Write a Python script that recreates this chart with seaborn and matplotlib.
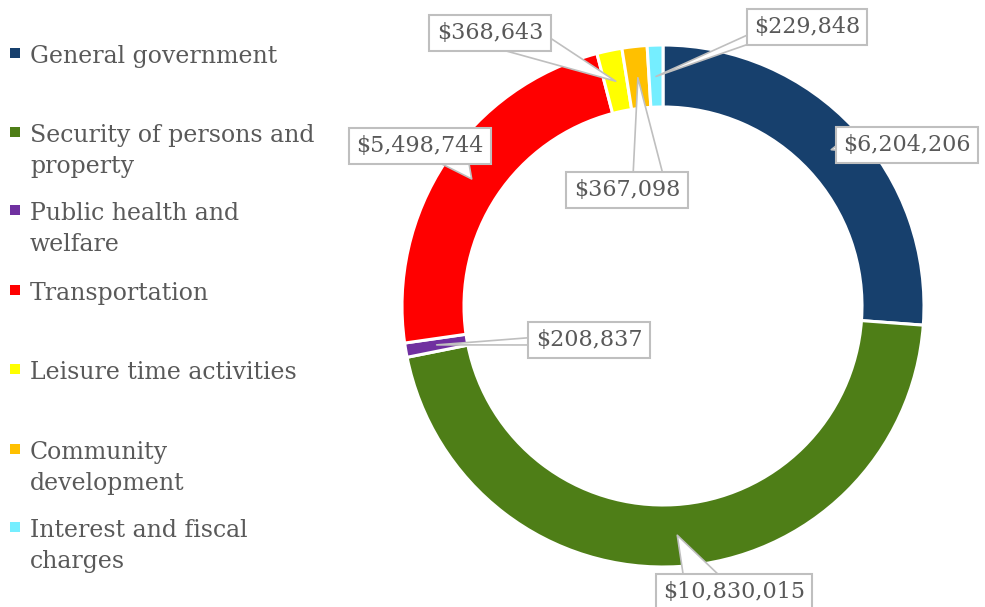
import numpy as np
import matplotlib
matplotlib.use("Agg")
import matplotlib.pyplot as plt
from matplotlib.patches import Rectangle
import seaborn as sns

# ---- data ----
categories = ["General government", "Security of persons and property",
              "Public health and welfare", "Transportation",
              "Leisure time activities", "Community development",
              "Interest and fiscal charges"]
legend_lines = [["General government"], ["Security of persons and", "property"],
                ["Public health and", "welfare"], ["Transportation"],
                ["Leisure time activities"], ["Community", "development"],
                ["Interest and fiscal", "charges"]]
values = [6204206, 10830015, 208837, 5498744, 368643, 367098, 229848]
colors = ["#17406D", "#4E7E17", "#7030A0", "#FF0000", "#FFFF00", "#FFC000", "#75EEFF"]

# ---- layout (pixels) ----
W, H = 985, 607
cx, cy, R = 663, 306, 261
label_px = [(907, 145), (734, 592), (589, 340), (420, 146), (490, 33), (627, 190), (807, 27)]
tail_w = [0.45, 1.8, 0.35, 1.8, 1.6, 1.4, 0.45]
rel_pos = [(0.0, 0.45), (0.29, 0.72), (0.0, 0.45), (0.72, 0.45), (0.72, 0.42), (0.7, 1.0), (0.06, 0.15)]
legend_base = [63, 142, 220, 300, 379, 459, 537]

sns.set_theme(style="white")
plt.rcParams['font.family'] = ['DejaVu Serif']

fig = plt.figure(figsize=(W / 100, H / 100), dpi=100)
ax = fig.add_axes([(cx - R) / W, (H - cy - R) / H, 2 * R / W, 2 * R / H])
wedges, _ = ax.pie(values, colors=colors, startangle=90, counterclock=False, radius=1,
                   wedgeprops=dict(width=62 / 261, edgecolor='white', linewidth=2.2))
ax.set_xlim(-1, 1)
ax.set_ylim(-1, 1)
ax.set_aspect('equal')
ax.axis('off')

for w, v, (px, py), tw, rp in zip(wedges, values, label_px, tail_w, rel_pos):
    ang = np.deg2rad((w.theta1 + w.theta2) / 2)
    r = 0.88
    tip = (r * np.cos(ang), r * np.sin(ang))
    ax.annotate(f"${v:,}", xy=tip, xytext=((px - cx) / R, (cy - py) / R),
                ha='center', va='center', fontsize=16, color='#595959',
                bbox=dict(boxstyle='square,pad=0.33', fc='white', ec='#BFBFBF', lw=1.5),
                arrowprops=dict(arrowstyle=f'wedge,tail_width={tw}', fc='white',
                                ec='#BFBFBF', lw=1.2, shrinkA=0, shrinkB=0,
                                relpos=rp, patchA=None),
                annotation_clip=False)

for lines, col, yb in zip(legend_lines, colors, legend_base):
    fig.add_artist(Rectangle((10 / W, 1 - (yb - 5) / H), 10 / W, 10 / H,
                             transform=fig.transFigure, color=col, lw=0))
    for i, line in enumerate(lines):
        fig.text(30 / W, 1 - (yb + 31 * i) / H, line, fontsize=17, color='#595959',
                 va='baseline', ha='left')

fig.savefig("out.png", dpi=100, facecolor='white')
